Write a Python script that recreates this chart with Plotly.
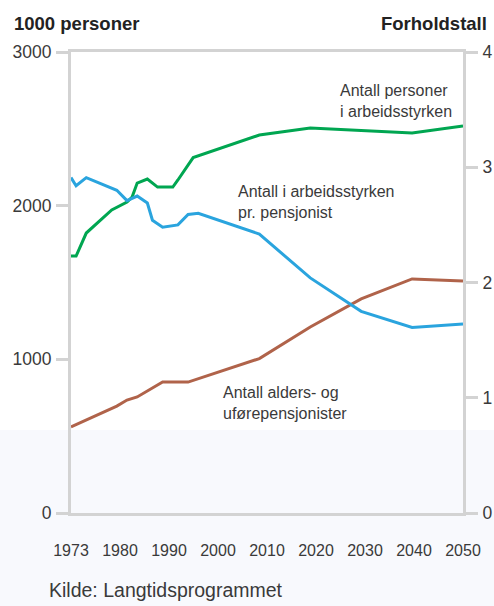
import plotly.graph_objects as go

# ---- data ----
years_labour = [1973, 1974, 1976, 1981, 1984, 1985, 1986, 1988, 1990, 1993, 1994, 1997, 2010, 2020, 2040, 2050]
labour_force = [1672, 1672, 1822, 1972, 2024, 2056, 2147, 2173, 2121, 2121, 2167, 2313, 2460, 2505, 2473, 2518]

years_ratio = [1973, 1974, 1976, 1982, 1984, 1986, 1988, 1989, 1991, 1994, 1996, 1998, 2010, 2020, 2030, 2040, 2050]
ratio = [2.91, 2.84, 2.91, 2.80, 2.71, 2.75, 2.69, 2.54, 2.48, 2.50, 2.59, 2.60, 2.42, 2.04, 1.75, 1.61, 1.64]

years_pens = [1973, 1982, 1984, 1986, 1991, 1996, 2010, 2020, 2030, 2040, 2050]
pensioners = [560, 696, 735, 755, 852, 852, 1005, 1210, 1393, 1523, 1510]

year_labels = ["1973", "1980", "1990", "2000", "2010", "2020", "2030", "2040", "2050"]
left_ticks = [0, 1000, 2000, 3000]
right_ticks = [0, 1, 2, 3, 4]

GREEN = "#00a651"
BLUE = "#2aa4de"
BROWN = "#b0634a"
AXIS = "#d3d3d3"
TXT = "#3a3a3a"
FONT = "Liberation Sans, Arial, sans-serif"

W, H = 494, 606
ML, MR, MT, MB = 67, 26, 52, 93
PW = W - ML - MR
PH = H - MT - MB

fig = go.Figure()
fig.add_trace(go.Scatter(x=years_labour, y=labour_force, mode="lines",
                         line=dict(color=GREEN, width=3), xaxis="x", yaxis="y",
                         hoverinfo="skip", showlegend=False))
fig.add_trace(go.Scatter(x=years_pens, y=pensioners, mode="lines",
                         line=dict(color=BROWN, width=3), xaxis="x", yaxis="y",
                         hoverinfo="skip", showlegend=False))
fig.add_trace(go.Scatter(x=years_ratio, y=ratio, mode="lines",
                         line=dict(color=BLUE, width=3), xaxis="x", yaxis="y2",
                         hoverinfo="skip", showlegend=False))
# invisible trace that carries the evenly spaced year-label axis
fig.add_trace(go.Scatter(x=[0, len(year_labels) - 1], y=[0, 0], mode="markers",
                         marker=dict(opacity=0), xaxis="x2", yaxis="y",
                         hoverinfo="skip", showlegend=False))

fig.update_layout(
    width=W, height=H,
    margin=dict(l=ML, r=MR, t=MT, b=MB),
    paper_bgcolor="white",
    plot_bgcolor="rgba(0,0,0,0)",
    font=dict(family=FONT, size=16, color=TXT),
    xaxis=dict(range=[1973, 2050], domain=[4 / PW, 396 / PW], automargin=False,
               showline=True, linecolor=AXIS, linewidth=3, mirror=True,
               showgrid=False, zeroline=False, showticklabels=False, ticks=""),
    xaxis2=dict(range=[0, len(year_labels) - 1], domain=[0, 1], overlaying="x",
                anchor="y", side="bottom", automargin=False,
                tickmode="array", tickvals=list(range(len(year_labels))), ticktext=year_labels,
                ticks="outside", ticklen=23, tickcolor="rgba(0,0,0,0)",
                showline=False, showgrid=False, zeroline=False,
                tickfont=dict(family=FONT, size=16, color=TXT)),
    yaxis=dict(range=[0, 3000], tickmode="array", tickvals=left_ticks, automargin=False,
               showline=True, linecolor=AXIS, linewidth=3,
               ticks="outside", ticklen=12, tickwidth=3, tickcolor=AXIS,
               ticklabelstandoff=1,
               showgrid=False, zeroline=False, anchor="x",
               tickfont=dict(family=FONT, size=17.5, color=TXT)),
    yaxis2=dict(range=[0, 4], tickmode="array", tickvals=right_ticks, automargin=False,
                overlaying="y", side="right", anchor="x",
                showline=True, linecolor=AXIS, linewidth=3,
                ticks="outside", ticklen=12, tickwidth=3, tickcolor=AXIS,
                ticklabelstandoff=1,
                showgrid=False, zeroline=False,
                tickfont=dict(family=FONT, size=17.5, color=TXT)),
    shapes=[dict(type="rect", xref="paper", yref="paper",
                 x0=-ML / PW, x1=(W - ML) / PW,
                 y0=(H - MB - 430) / PH, y1=(H - MB - H) / PH,
                 fillcolor="#f8f9fd", line=dict(width=0), layer="below")],
)

TFONT = "Liberation Sans, Arial, sans-serif"
ann = []
ann.append(dict(text="<b>1000 personer</b>", xref="paper", yref="paper",
                x=(12 - ML) / PW, y=(H - MB - 23) / PH, xanchor="left", yanchor="middle",
                showarrow=False, font=dict(family=TFONT, size=18.5, color="#222222")))
ann.append(dict(text="<b>Forholdstall</b>", xref="paper", yref="paper",
                x=(489 - ML) / PW, y=(H - MB - 23) / PH, xanchor="right", yanchor="middle",
                showarrow=False, font=dict(family=TFONT, size=18.5, color="#222222")))
ann.append(dict(text="Kilde: Langtidsprogrammet", xref="paper", yref="paper",
                x=(47 - ML) / PW, y=(H - MB - 590) / PH, xanchor="left", yanchor="middle",
                showarrow=False, font=dict(family=FONT, size=19.5, color=TXT)))
ann.append(dict(text="Antall personer<br>i arbeidsstyrken", xref="x", yref="y",
                x=2025.4, y=2678, xanchor="left", yanchor="middle", align="left",
                showarrow=False, font=dict(family=FONT, size=16, color=TXT)))
ann.append(dict(text="Antall i arbeidsstyrken<br>pr. pensjonist", xref="x", yref="y",
                x=2005.4, y=2027, xanchor="left", yanchor="middle", align="left",
                showarrow=False, font=dict(family=FONT, size=16, color=TXT)))
ann.append(dict(text="Antall alders- og<br>uførepensjonister", xref="x", yref="y",
                x=2002.5, y=716, xanchor="left", yanchor="middle", align="left",
                showarrow=False, font=dict(family=FONT, size=16, color=TXT)))
fig.update_layout(annotations=ann)

fig.write_html("out.html", config={"displayModeBar": False},
               post_script="document.body.style.margin='0';")
